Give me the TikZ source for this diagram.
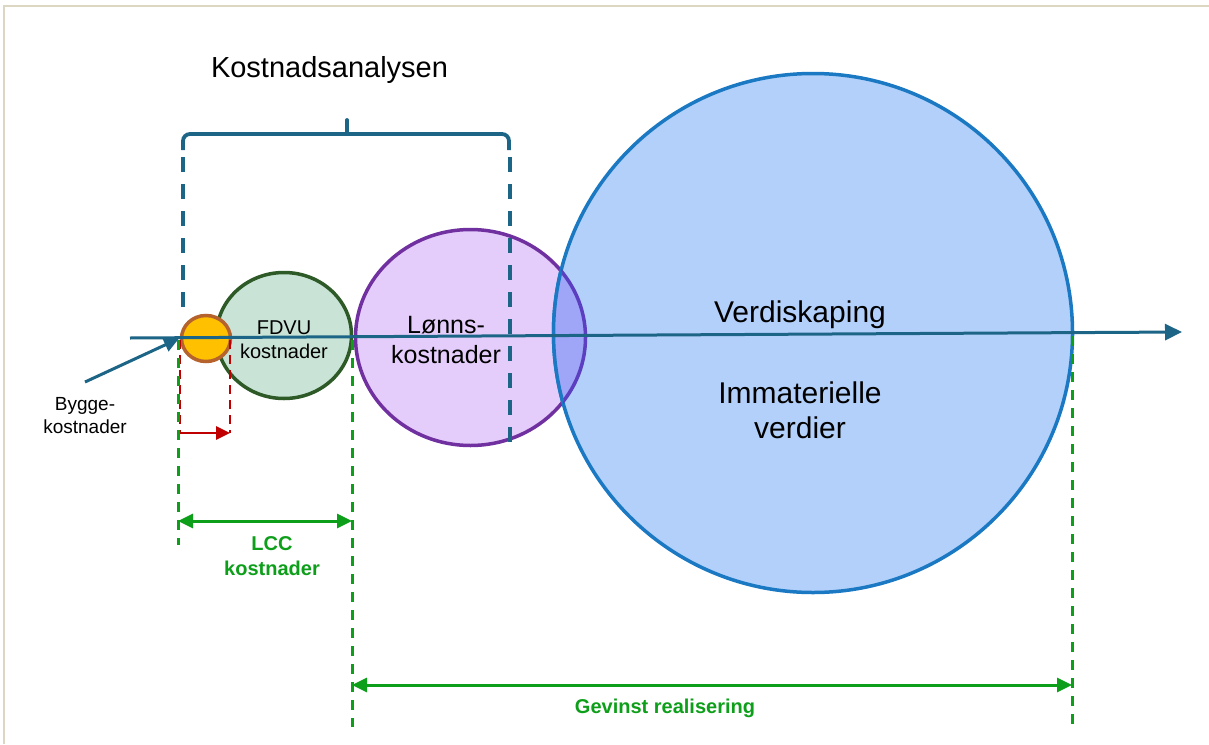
\documentclass[tikz,border=0pt]{standalone}
\usepackage{fontspec}
\setmainfont{Liberation Sans}
\usetikzlibrary{arrows.meta,shapes.geometric}
\definecolor{teal1}{HTML}{1D6586}
\definecolor{orfill}{HTML}{FFC000}
\definecolor{ordraw}{HTML}{B5622D}
\definecolor{fdfill}{HTML}{C9E4D6}
\definecolor{fddraw}{HTML}{2D5A27}
\definecolor{lnfill}{HTML}{E5CDFB}
\definecolor{lndraw}{HTML}{7030A0}
\definecolor{bgfill}{HTML}{B3D0FB}
\definecolor{bgdraw}{HTML}{1A79C2}
\definecolor{ovfill}{HTML}{A0A6F7}
\definecolor{ovdraw}{HTML}{5C3FC0}
\definecolor{grn}{HTML}{0E9F1A}
\definecolor{rd}{HTML}{C00000}
\definecolor{frm}{HTML}{DCD7C3}
\tikzset{
  blob/.style={ellipse, inner sep=0pt, outer sep=0pt, line width=3.5pt},
  txt/.style={inner sep=0pt, align=center, text=black},
  gdash/.style={draw=grn, line width=3pt, dash pattern=on 10pt off 8pt},
  rdash/.style={draw=rd, line width=2.6pt, dash pattern=on 9pt off 6pt},
  bdash/.style={draw=teal1, line width=3.8pt, dash pattern=on 15pt off 12pt},
  garrow/.style={draw=grn, line width=3pt, {Triangle[length=15pt,width=14pt]}-{Triangle[length=15pt,width=14pt]}},
}
\begin{document}
\begin{tikzpicture}[x=1pt,y=-1pt]
\useasboundingbox (0,0) rectangle (1209,744);
\fill[white] (0,0) rectangle (1209,744);
\draw[frm, line width=2.5pt] (4,744) -- (4,6) -- (1209,6);

% circles
\node[blob, draw=lndraw, fill=lnfill, minimum width=230pt, minimum height=216pt] (lon) at (470.5,337.5) {};
\node[blob, draw=bgdraw, fill=bgfill, minimum width=519pt, minimum height=519pt] (big) at (813,333) {};
\begin{scope}
  \clip (big.center) ellipse [x radius=259.5pt, y radius=259.5pt];
  \fill[ovfill] (lon.center) ellipse [x radius=115pt, y radius=108pt];
  \draw[ovdraw, line width=3.5pt] (lon.center) ellipse [x radius=115pt, y radius=108pt];
\end{scope}
\begin{scope}
  \clip (lon.center) ellipse [x radius=115pt, y radius=108pt];
  \draw[bgdraw, line width=3.5pt] (big.center) ellipse [x radius=259.5pt, y radius=259.5pt];
\end{scope}
\node[blob, draw=fddraw, fill=fdfill, minimum width=135pt, minimum height=126pt] (fdvu) at (284,335.5) {};
\node[blob, draw=ordraw, fill=orfill, minimum width=49pt, minimum height=46pt] (bygg) at (206,338.5) {};

% main axis
\coordinate (axs) at (130,338);
\coordinate (axe) at (1182,332);
\draw[teal1, line width=3pt, -{Triangle[length=17pt,width=16pt]}] (axs) -- (axe);

% Bygge arrow
\coordinate (bys) at (85,382);
\coordinate (bye) at (179,338.5);
\draw[teal1, line width=3pt, -{Triangle[length=15pt,width=14pt]}] (bys) -- (bye);

% brace
\coordinate (brl) at (183,150);
\coordinate (brr) at (509,150);
\coordinate (brm) at (347,134);
\coordinate (brt) at (347,120);
\draw[teal1, line width=3.8pt, rounded corners=7pt] (brl) -- (183,134) -- (509,134) -- (brr);
\draw[teal1, line width=3.8pt, line cap=round] (brm) -- (brt);
\coordinate (bdl) at (183,314);
\coordinate (bdr) at (510,443);
\draw[bdash] (183,157) -- (bdl);
\draw[bdash] (510,157) -- (bdr);

% red
\coordinate (r1a) at (180,340);
\coordinate (r1b) at (180,433);
\coordinate (r2a) at (230,340);
\coordinate (r2b) at (230,433);
\draw[rdash] (r1a) -- (r1b);
\draw[rdash] (r2a) -- (r2b);
\draw[rd, line width=2.6pt, -{Triangle[length=14pt,width=13pt]}] (r1b) -- (r2b);

% green
\coordinate (g1a) at (178,340);
\coordinate (g1b) at (178,545);
\coordinate (g2a) at (352,340);
\coordinate (g2b) at (352,727);
\coordinate (g3a) at (1072,336);
\coordinate (g3b) at (1072,727);
\draw[gdash] (g1a) -- (g1b);
\draw[gdash] (g2a) -- (g2b);
\draw[gdash] (g3a) -- (g3b);
\draw[garrow] (178,521) -- (352,521);
\draw[garrow] (352,685) -- (1072,685);

% texts
\node[txt, font=\fontsize{29}{34}\selectfont] (tk) at (329.5,70) {Kostnadsanalysen};
\node[txt, font=\fontsize{19}{23}\selectfont] (tb) at (85,416) {Bygge-\\kostnader};
\node[txt, font=\fontsize{20}{24}\selectfont] (tf) at (284,340) {FDVU\\kostnader};
\node[txt, font=\fontsize{25}{30}\selectfont] (tl) at (446,340) {Lønns-\\kostnader};
\node[txt, font=\fontsize{30}{36}\selectfont] (tv) at (800,315) {Verdiskaping};
\node[txt, font=\fontsize{30}{35}\selectfont] (ti) at (800,410) {Immaterielle\\verdier};
\node[txt, text=grn, font=\bfseries\fontsize{20}{25}\selectfont] (tlcc) at (272,556) {LCC\\kostnader};
\node[txt, text=grn, font=\bfseries\fontsize{20}{24}\selectfont] (tg) at (665,708) {Gevinst realisering};
\end{tikzpicture}
\end{document}
